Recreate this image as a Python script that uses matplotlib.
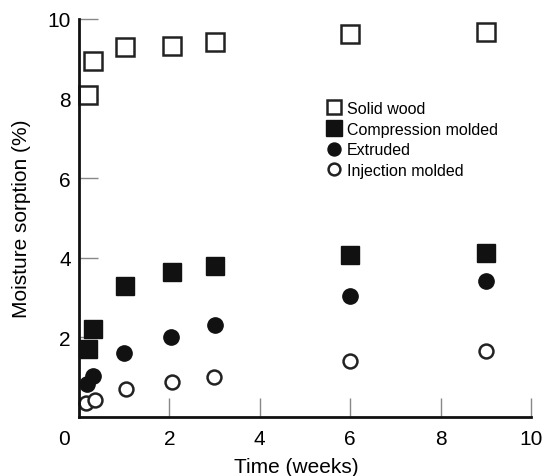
import matplotlib
matplotlib.use("Agg")
import matplotlib.pyplot as plt
from matplotlib.transforms import ScaledTranslation

plt.rcParams['font.family'] = ['Liberation Sans', 'DejaVu Sans']

# time in weeks, moisture sorption in %
solid_t = [0.2, 0.3, 1.02, 2.05, 3.0, 6.0, 9.0]
solid_y = [8.1, 8.94, 9.3, 9.32, 9.42, 9.62, 9.67]

comp_t = [0.2, 0.32, 1.02, 2.05, 3.0, 6.0, 9.0]
comp_y = [1.7, 2.2, 3.3, 3.65, 3.8, 4.07, 4.12]

extr_t = [0.18, 0.3, 1.0, 2.03, 3.0, 6.0, 9.0]
extr_y = [0.83, 1.03, 1.6, 2.0, 2.3, 3.04, 3.42]

inj_t = [0.15, 0.35, 1.05, 2.05, 2.98, 6.0, 9.0]
inj_y = [0.35, 0.43, 0.7, 0.88, 1.0, 1.4, 1.67]

fig = plt.figure(figsize=(5.44, 4.77), dpi=100)
ax = fig.add_axes([79 / 544, 59 / 477, 452 / 544, 398 / 477])

ax.plot(solid_t, solid_y, ls='none', marker='s', ms=12.5, mfc='white',
        mec='#222222', mew=1.8, label='Solid wood', clip_on=False)
ax.plot(comp_t, comp_y, ls='none', marker='s', ms=13, mfc='#111111',
        mec='#111111', label='Compression molded', clip_on=False)
ax.plot(extr_t, extr_y, ls='none', marker='o', ms=11, mfc='#111111',
        mec='#111111', label='Extruded', clip_on=False)
ax.plot(inj_t, inj_y, ls='none', marker='o', ms=10, mfc='white',
        mec='#222222', mew=1.8, label='Injection molded', clip_on=False)

ax.set_xlim(0, 10)
ax.set_ylim(0, 10)
ax.set_xticks([0, 2, 4, 6, 8, 10])
ax.set_yticks([2, 4, 6, 8, 10])
ax.tick_params(direction='in', length=14, width=1, color='#888888',
               labelsize=15)
ax.tick_params(axis='x', pad=9)
ax.tick_params(axis='y', pad=6)
for side in ['top', 'right']:
    ax.spines[side].set_visible(False)
for side in ['left', 'bottom']:
    ax.spines[side].set_linewidth(2)
    ax.spines[side].set_color('#111111')

# the origin label sits left of the axis corner
lbl0 = ax.get_xticklabels()[0]
lbl0.set_transform(lbl0.get_transform() + ScaledTranslation(-15 / 100, 0, fig.dpi_scale_trans))

ax.set_xlabel('Time (weeks)', fontsize=15, labelpad=6)
ax.xaxis.set_label_coords(0.48, -0.1)
ax.set_ylabel('Moisture sorption (%)', fontsize=15, labelpad=12)

leg = ax.legend(loc='upper left', bbox_to_anchor=(326 / 544, 1 - 102 / 477),
                bbox_transform=fig.transFigure, frameon=False,
                fontsize=11.5, handletextpad=0.3, labelspacing=0.35,
                handlelength=1.0, markerscale=0.85, borderaxespad=0, borderpad=0)

fig.savefig('out.png', dpi=100)
